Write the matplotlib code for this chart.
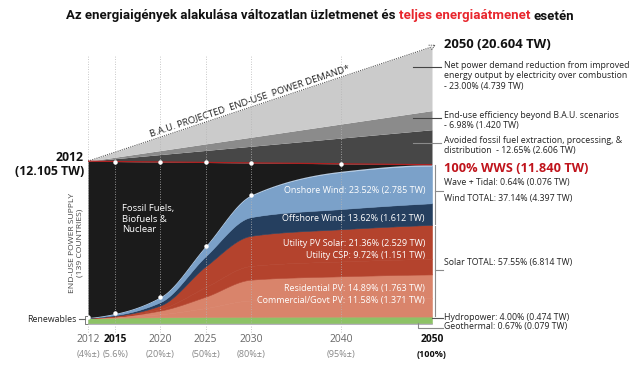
import numpy as np
import matplotlib
matplotlib.use('Agg')
import matplotlib.pyplot as plt
from matplotlib.lines import Line2D

# ---------------- data ----------------
years = [2012, 2015, 2020, 2025, 2030, 2040, 2050]
year_labels = ['2012', '2015', '2020', '2025', '2030', '2040', '2050']
share_labels = ['(4%±)', '(5.6%)', '(20%±)', '(50%±)', '(80%±)', '(95%±)', '(100%)']

# WWS supply components (TW)
geothermal = [0.070, 0.070, 0.072, 0.074, 0.076, 0.078, 0.079]
hydro = [0.380, 0.400, 0.430, 0.450, 0.460, 0.470, 0.474]
commercial_pv = [0.004, 0.035, 0.220, 0.660, 1.210, 1.310, 1.371]
residential_pv = [0.006, 0.045, 0.280, 0.850, 1.550, 1.690, 1.763]
utility_csp = [0.003, 0.016, 0.120, 0.710, 1.020, 1.100, 1.151]
utility_pv = [0.007, 0.050, 0.260, 1.550, 2.240, 2.400, 2.529]
offshore_wind = [0.005, 0.050, 0.250, 0.750, 1.390, 1.500, 1.612]
onshore_wind = [0.010, 0.120, 0.380, 0.750, 1.600, 2.750, 2.785]
wave_tidal = [0.000, 0.002, 0.010, 0.020, 0.040, 0.060, 0.076]

# end-use demand in WWS scenario (TW)
demand_wws = [12.105, 12.08, 12.05, 12.01, 11.98, 11.91, 11.84]

# B.A.U. reductions (TW), 2012 -> 2050
bau_years = [2012, 2050]
avoided_fossil = [0.0, 2.606]
efficiency = [0.0, 1.420]
electrification = [0.0, 4.739]

# ---------------- helpers ----------------
def pchip(x, y, xn):
    x = np.asarray(x, float); y = np.asarray(y, float)
    h = np.diff(x); d = np.diff(y) / h
    n = len(x); m = np.zeros(n)
    for k in range(1, n - 1):
        if d[k - 1] * d[k] > 0:
            w1 = 2 * h[k] + h[k - 1]; w2 = h[k] + 2 * h[k - 1]
            m[k] = (w1 + w2) / (w1 / d[k - 1] + w2 / d[k])
    def endslope(h0, h1, d0, d1):
        s = ((2 * h0 + h1) * d0 - h0 * d1) / (h0 + h1)
        if np.sign(s) != np.sign(d0):
            s = 0.0
        elif np.sign(d0) != np.sign(d1) and abs(s) > abs(3 * d0):
            s = 3 * d0
        return s
    m[0] = endslope(h[0], h[1], d[0], d[1])
    m[-1] = endslope(h[-1], h[-2], d[-1], d[-2])
    xn = np.asarray(xn, float)
    idx = np.clip(np.searchsorted(x, xn) - 1, 0, n - 2)
    t = (xn - x[idx]) / h[idx]
    h00 = 2 * t**3 - 3 * t**2 + 1; h10 = t**3 - 2 * t**2 + t
    h01 = -2 * t**3 + 3 * t**2; h11 = t**3 - t**2
    return (h00 * y[idx] + h10 * h[idx] * m[idx] + h01 * y[idx + 1]
            + h11 * h[idx] * m[idx + 1])

W, H = 640, 366
fig = plt.figure(figsize=(6.4, 3.66), dpi=100)
FONT = ['Open Sans', 'DejaVu Sans']
plt.rcParams['font.family'] = FONT

# axes placement (pixel based)
x0px, x1px, y0px, ytop = 88, 432, 324, 40
ax = fig.add_axes([x0px / W, (H - y0px) / H, (x1px - x0px) / W, (y0px - ytop) / H])
ax.set_xlim(2012, 2050)
ax.set_ylim(0, (y0px - ytop) / 13.45)
ax.axis('off')

xs = np.linspace(2012, 2050, 500)

layers = [
    (geothermal, '#a29dab'),
    (hydro, '#8dc266'),
    (commercial_pv, '#d9846b'),
    (residential_pv, '#d9846b'),
    (utility_csp, '#b4432d'),
    (utility_pv, '#b4432d'),
    (offshore_wind, '#253f5f'),
    (onshore_wind, '#7ba1c9'),
    (wave_tidal, '#b7cde5'),
]
cum = np.zeros(len(years))
lower = np.zeros_like(xs)
for vals, col in layers:
    cum = cum + np.asarray(vals)
    upper = pchip(years, cum, xs)
    ax.fill_between(xs, lower, upper, color=col, lw=0.4, ec=col, zorder=2)
    lower = upper
stack_top = lower
stack_top_pts = cum.copy()

dem = pchip(years, demand_wws, xs)
ax.fill_between(xs, stack_top, dem, color='#1b1b1b', lw=0, zorder=2)

# BAU wedges
bx = np.asarray(bau_years, float)
base = np.array([demand_wws[0], demand_wws[-1]])
c1 = base + np.asarray(avoided_fossil)
c2 = c1 + np.asarray(efficiency)
c3 = c2 + np.asarray(electrification)
ax.fill_between(bx, base, c1, color='#474747', lw=0, zorder=2)
ax.fill_between(bx, c1, c2, color='#8b8b8b', lw=0, zorder=2)
ax.fill_between(bx, c2, c3, color='#cbcbcb', lw=0, zorder=2)
ax.plot(bx, c3, ls=(0, (1, 1)), color='#555555', lw=0.8, zorder=4)
ax.annotate('', xy=(2050.7, c3[1] + 0.25), xytext=(2049.9, c3[1] - 0.02),
            arrowprops=dict(arrowstyle='->', color='#555555', lw=0.6, ls=':'),
            annotation_clip=False)

# demand line
ax.plot(xs, dem, color='#b02020', lw=0.9, zorder=4)

# grid lines
for yr in years[:-1]:
    ax.plot([yr, yr], [-0.6, 20.0], ls=(0, (1, 2)), color='#b5b5b5', lw=0.6,
            zorder=3, clip_on=False)

# white dots
dot_years = [2015, 2020, 2025, 2030, 2040]
for i, yr in enumerate(years):
    if yr in dot_years:
        ax.plot(yr, demand_wws[i], 'o', ms=2.2, color='white', zorder=5)
    if yr <= 2030:
        ax.plot(yr, stack_top_pts[i], 'o', ms=2.2, color='white', zorder=5)

# x labels
tr = ax.get_xaxis_transform()
for i, yr in enumerate(years):
    bold = yr in (2015, 2050)
    ax.text(yr, -0.056, year_labels[i], transform=tr, ha='center', va='center',
            fontsize=7.4, color='#111111' if bold else '#666666',
            fontweight='bold' if bold else 'normal', clip_on=False)
    ax.text(yr, -0.106, share_labels[i], transform=tr, ha='center', va='center',
            fontsize=6.6, color='#111111' if yr == 2050 else '#888888',
            fontweight='bold' if yr == 2050 else 'normal', clip_on=False)

def px(x, y):
    return x / W, 1 - y / H

# inner labels
lab_kw = dict(color='white', fontsize=6.5, ha='right', va='center')
inner = [(190, 'Onshore Wind: 23.52% (2.785 TW)'),
         (218, 'Offshore Wind: 13.62% (1.612 TW)'),
         (244, 'Utility PV Solar: 21.36% (2.529 TW)'),
         (256, 'Utility CSP: 9.72% (1.151 TW)'),
         (289, 'Residential PV: 14.89% (1.763 TW)'),
         (301, 'Commercial/Govt PV: 11.58% (1.371 TW)')]
for yy, s in inner:
    fig.text(*px(425, yy), s, **lab_kw, zorder=6)

fig.text(*px(122, 219), 'Fossil Fuels,\nBiofuels &\nNuclear', color='white',
         fontsize=6.8, ha='left', va='center', linespacing=1.2)

fig.text(*px(76, 243), 'END-USE POWER SUPPLY\n(139 COUNTRIES)', color='#444444',
         fontsize=6.1, rotation=90, ha='center', va='center', linespacing=1.1,
         multialignment='center')

fig.text(*px(84, 165), '2012\n(12.105 TW)', fontsize=8.8, fontweight='bold',
         ha='right', va='center', color='#111111', linespacing=1.1)
fig.text(*px(444, 44), '2050 (20.604 TW)', fontsize=9.4, fontweight='bold',
         ha='left', va='center', color='#111111')

ann_kw = dict(fontsize=6.3, ha='left', va='top', color='#222222', linespacing=1.2)
fig.text(*px(444, 61), 'Net power demand reduction from improved\n'
         'energy output by electricity over combustion\n- 23.00% (4.739 TW)', **ann_kw)
fig.text(*px(444, 111), 'End-use efficiency beyond B.A.U. scenarios\n- 6.98% (1.420 TW)',
         **ann_kw)
fig.text(*px(444, 136), 'Avoided fossil fuel extraction, processing, &\n'
         'distribution  - 12.65% (2.606 TW)', **ann_kw)
for yy, col in [(67, '#444444'), (118, '#444444'), (143, '#8a8a8a')]:
    fig.add_artist(Line2D([413 / W, 441 / W], [1 - yy / H, 1 - yy / H], color=col, lw=0.8))

fig.text(*px(444, 168), '100% WWS (11.840 TW)', fontsize=9.2, fontweight='bold',
         ha='left', va='center', color='#c0141c')
side_kw = dict(fontsize=6.3, ha='left', va='center', color='#222222')
fig.text(*px(444, 183), 'Wave + Tidal: 0.64% (0.076 TW)', **side_kw)
fig.text(*px(444, 198), 'Wind TOTAL: 37.14% (4.397 TW)', **side_kw)
fig.text(*px(444, 263), 'Solar TOTAL: 57.55% (6.814 TW)', **side_kw)
fig.text(*px(444, 317), 'Hydropower: 4.00% (0.474 TW)', **side_kw)
fig.text(*px(444, 327), 'Geothermal: 0.67% (0.079 TW)', **side_kw)

# brackets (data coordinates)
xb = 2050.35
xt = 2051.2
tot = np.cumsum([geothermal[-1], hydro[-1], commercial_pv[-1], residential_pv[-1],
                 utility_csp[-1], utility_pv[-1], offshore_wind[-1], onshore_wind[-1],
                 wave_tidal[-1]])
gray = '#8a8a8a'
kwl = dict(color=gray, lw=0.8, clip_on=False, zorder=5)
ax.plot([xb, xb], [tot[5] + 0.05, tot[8]], **kwl)
ax.plot([xb, xt], [(tot[5] + tot[8]) / 2 + 0.3] * 2, **kwl)
ax.plot([xb, xb], [tot[1] + 0.05, tot[5] - 0.05], **kwl)
ax.plot([xb, xt], [(tot[1] + tot[5]) / 2 + 0.05] * 2, **kwl)
ax.plot([2050, xt], [tot[0] + hydro[-1] / 2 + 0.15] * 2, color='#555555', lw=0.8,
        clip_on=False, zorder=5)
ax.plot([2048.4, 2048.4, xt], [tot[0] / 2, -0.3, -0.3], color=gray, lw=0.8,
        clip_on=False, zorder=5)

# Renewables label at left
fig.text(*px(77, 319), 'Renewables', fontsize=6.3, ha='right', va='center', color='#222222')
ax.plot([2011.0, 2011.7], [0.35, 0.35], color='#666666', lw=0.8, clip_on=False)
ax.plot([2011.95, 2011.7, 2011.7, 2011.95], [0.0, 0.0, 0.6, 0.6], color='#666666',
        lw=0.6, clip_on=False)

# BAU rotated text
p0 = ax.transData.transform((2012, c3[0]))
p1 = ax.transData.transform((2050, c3[1]))
ang = np.degrees(np.arctan2(p1[1] - p0[1], p1[0] - p0[0]))
xm = 2030.0
ym = c3[0] + (c3[1] - c3[0]) * (xm - 2012) / 38
ax.annotate('B.A.U. PROJECTED  END-USE  POWER DEMAND*', xy=(xm, ym),
            xytext=(0, 1.5), textcoords='offset points', rotation=ang,
            rotation_mode='anchor', ha='center', va='bottom', fontsize=6.8,
            color='#222222', zorder=6)

# title with coloured part
fig.canvas.draw()
r = fig.canvas.get_renderer()
tfam = ['Roboto', 'DejaVu Sans']
def tw(s, size):
    t = fig.text(0, 0, s, fontsize=size, fontweight='bold', family=tfam)
    w = t.get_window_extent(renderer=r).width
    t.remove()
    return w
p1s = 'Az energiaigények alakulása változatlan üzletmenet és'
p2s = 'teljes energiaátmenet'
p3s = 'esetén'
full = p1s + ' ' + p2s + ' ' + p3s
size = 10.0
size = size * 505 / tw(full, size)
sp = tw('a a', size) - tw('aa', size)
w1, w2 = tw(p1s, size), tw(p2s, size)
start = 320 - tw(full, size) / 2
ty = 1 - 16 / H
fig.text(start / W, ty, p1s, fontsize=size, fontweight='bold', family=tfam,
         color='#111111', va='center', ha='left')
fig.text((start + w1 + sp) / W, ty, p2s, fontsize=size, fontweight='bold', family=tfam,
         color='#e8262d', va='center', ha='left')
fig.text((start + w1 + sp + w2 + sp) / W, ty, p3s, fontsize=size, fontweight='bold',
         family=tfam, color='#111111', va='center', ha='left')

fig.savefig('out.png', dpi=100, facecolor='white')
